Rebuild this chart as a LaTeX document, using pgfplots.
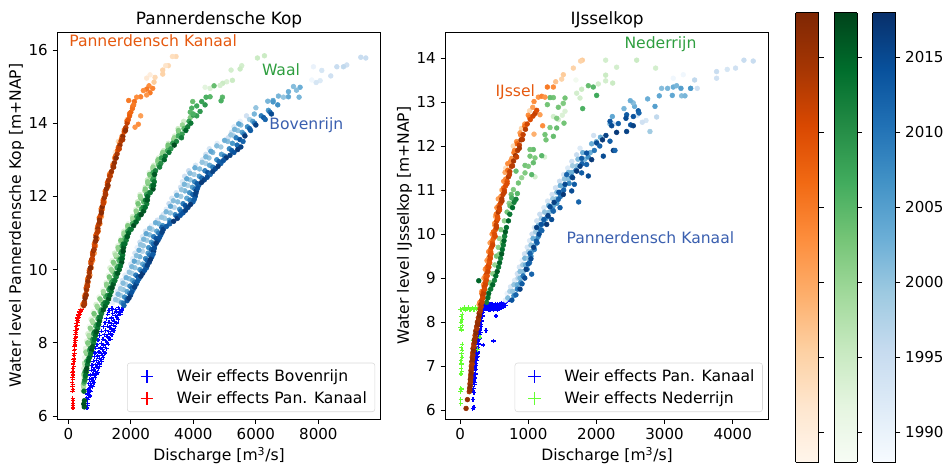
\documentclass[border=0pt]{standalone}
\usepackage{fontspec}
\setmainfont{DejaVu Sans}
\usepackage{pgfplots}
\pgfplotsset{compat=1.18}
\pgfplotsset{
colormap={Oranges}{rgb255=(255,245,235) rgb255=(254,230,206) rgb255=(253,208,162) rgb255=(253,174,107) rgb255=(253,141,60) rgb255=(241,105,19) rgb255=(217,72,1) rgb255=(166,54,3) rgb255=(127,39,4)},
colormap={Greens}{rgb255=(247,252,245) rgb255=(229,245,224) rgb255=(199,233,192) rgb255=(161,217,155) rgb255=(116,196,118) rgb255=(65,171,93) rgb255=(35,139,69) rgb255=(0,109,44) rgb255=(0,68,27)},
colormap={Blues}{rgb255=(247,251,255) rgb255=(222,235,247) rgb255=(198,219,239) rgb255=(158,202,225) rgb255=(107,174,214) rgb255=(66,146,198) rgb255=(33,113,181) rgb255=(8,81,156) rgb255=(8,48,107)},
pts/.style={scatter, only marks, mark=*, mark size=1.8pt, forget plot, point meta=explicit, point meta min=1988, point meta max=2018, scatter/use mapped color={draw=mapped color,fill=mapped color}},
weir/.style={only marks, mark=+, mark size=1.6pt, line width=0.9pt, forget plot},
panel/.style={scale only axis, anchor=south west, axis line style={line width=0.7pt}, tick style={line width=0.6pt,black}, major tick length=3.6pt, tick align=outside, xtick pos=bottom, ytick pos=left, height=290.25pt, width=242.6pt, every axis title/.style={at={(0.5,1)},anchor=south,yshift=-0.4pt}, /pgf/number format/assume math mode=true, scaled ticks=false, /pgf/number format/1000 sep={}, legend cell align=left, legend image code/.code={\pgfpathmoveto{\pgfpointorigin}\pgfpathmoveto{\pgfpoint{0.6cm}{0cm}}\pgfusepath{discard}\begin{scope}[##1]\pgftransformxshift{10.8pt}\pgfuseplotmark{+}\end{scope}}, legend style={anchor=south west, draw=black!15, rounded corners=2pt, fill=white, fill opacity=0.8, text opacity=1, row sep=1.8pt, inner xsep=4pt, inner ysep=3pt, /tikz/every even column/.append style={column sep=2pt}, font=\fontsize{11.7}{13.5}\selectfont}, xlabel style={yshift=1.6pt}, ylabel style={yshift=-3.5pt}, tick label style={font=\fontsize{11.3}{13}\selectfont}, label style={font=\fontsize{11.7}{13.5}\selectfont}, title style={font=\fontsize{12.7}{14.5}\selectfont}},
cbar/.style={scale only axis, anchor=south west, axis on top, width=17.25pt, height=337.1pt, view={0}{90}, xmin=0,xmax=1,ymin=1988,ymax=2018, xtick=\empty, ytick={1990,1995,2000,2005,2010,2015}, ytick pos=right, yticklabel pos=right, tick align=outside, major tick length=3.6pt, tick style={line width=0.6pt,black}, axis line style={line width=0.7pt}, /pgf/number format/assume math mode=true, /pgf/number format/1000 sep={}, tick label style={font=\fontsize{11.3}{13}\selectfont}},
}
\definecolor{txtO}{HTML}{E6590F}
\definecolor{txtG}{HTML}{2E9E3F}
\definecolor{txtB}{HTML}{3A5FAF}
\definecolor{lime}{HTML}{66FF33}
\newcommand{\lab}{\fontsize{11.7}{13.5}\selectfont}
\begin{document}
\begin{tikzpicture}
\useasboundingbox (0,0) rectangle (711pt,349.5pt);
\begin{axis}[panel, at={(43pt,35.25pt)}, xmin=-352, xmax=9997, ymin=5.92, ymax=16.49,
 xtick={0,2000,4000,6000,8000}, ytick={6,8,10,12,14,16},
 title={Pannerdensche Kop}, xlabel={Discharge [m\textsuperscript{3}/s]}, ylabel={Water level Pannerdensche Kop [m+NAP]},
 legend style={at={(0.2155,0.018)}}]
\addlegendimage{blue, mark size=4.8pt, line width=1pt}
\addlegendentry{\hspace{14pt}Weir effects Bovenrijn}
\addlegendimage{red, mark size=4.8pt, line width=1pt}
\addlegendentry{\hspace{14pt}Weir effects Pan. Kanaal}
% weir Bovenrijn
\addplot[weir, blue] coordinates {(600,6.22)(620,6.28)(610,6.35)(590,6.5)(640,6.5)(690,6.55)(610,6.6)(660,6.65)(720,6.68)(630,6.72)(690,6.78)(770,6.8)(650,6.88)(720,6.9)(820,6.92)(680,7.0)(760,7.02)(860,7.05)(700,7.12)(790,7.14)(900,7.15)(730,7.25)(820,7.28)(960,7.3)(760,7.38)(860,7.4)(1000,7.42)(800,7.5)(900,7.52)(1040,7.54)(830,7.62)(940,7.64)(1090,7.66)(850,7.72)(980,7.75)(1130,7.76)(880,7.85)(1020,7.86)(1180,7.88)(920,7.95)(1060,7.98)(1240,8.0)(950,8.08)(1110,8.1)(1300,8.12)(1000,8.2)(1150,8.22)(1340,8.24)(1060,8.32)(1200,8.34)(1400,8.36)(1120,8.44)(1250,8.45)(1440,8.48)(1170,8.55)(1300,8.56)(1480,8.58)(1220,8.66)(1380,8.68)(1560,8.7)(1260,8.78)(1420,8.8)(1620,8.78)(1300,8.88)(1500,8.9)(1680,8.86)(1400,8.94)(1600,8.96)(1760,8.96)
(620,6.45)(660,6.58)(700,6.7)(740,6.84)(790,6.96)(830,7.1)(870,7.22)(920,7.34)(960,7.46)(1000,7.58)(1050,7.7)(1090,7.82)(1130,7.94)(1180,8.06)(1240,8.18)(1290,8.3)(1330,8.42)(1380,8.52)(1440,8.62)(1500,8.74)(1540,8.84)(1640,8.92)(1700,8.92)(940,7.2)(1000,7.35)(1060,7.48)(1120,7.6)(1170,7.72)(1230,7.84)(1280,7.96)(1350,8.1)(1400,8.22)(1460,8.34)(1500,8.44)(1540,8.54)(1600,8.64)(1680,8.78)(1720,8.88)};
% weir Pan. Kanaal
\addplot[weir, red] coordinates {(150,6.22)(145,6.28)(155,6.34)(150,6.42)(145,6.48)(135,6.68)(150,6.72)(130,6.8)(145,6.86)(125,6.92)(140,7.0)(130,7.06)(150,7.12)(135,7.18)(160,7.22)(145,7.3)(170,7.36)(155,7.42)(180,7.48)(165,7.54)(190,7.58)(175,7.66)(200,7.7)(185,7.78)(210,7.82)(195,7.9)(220,7.94)(205,8.0)(230,8.06)(215,8.12)(240,8.16)(225,8.22)(250,8.28)(230,8.34)(270,8.38)(240,8.44)(290,8.48)(250,8.52)(300,8.56)(270,8.6)(320,8.62)(290,8.68)(345,8.7)(325,8.76)(370,8.78)(350,8.84)(410,8.86)(380,8.9)(440,8.93)(475,8.96)};
% Bovenrijn
\addplot[pts, colormap name=Blues] coordinates {
(9517,15.78)[1995](9357,15.8)[1995](8909,15.59)[1994](8802,15.54)[1996](8590,15.54)[1995](8397,15.29)[1994](8109,15.44)[1993](7842,15.54)[1990](8056,15.16)[1992](7928,15.11)[1993](7789,15.18)[1989]
(1420,9.1)[1991](1490,9.25)[1990](1570,9.4)[1992](1650,9.55)[1990](1730,9.7)[1993](1810,9.85)[1991](1900,10)[1989](1995,10.15)[1992](2060,10.3)[1991](2130,10.45)[1993](2200,10.6)[1990](2290,10.75)[1994](2370,10.9)[1992](2470,11.05)[1993](2650,11.2)[1990](2850,11.35)[1994](3030,11.5)[1993](3130,11.65)[1991](3220,11.8)[1995](3310,11.95)[1993](3450,12.1)[1992](3590,12.25)[1994](3650,12.4)[1992](3720,12.55)[1994](3850,12.7)[1995](4070,12.85)[1993](4290,13)[1992](4400,13.15)[1994](4510,13.3)[1993](4760,13.45)[1991](5110,13.6)[1994](5220,13.75)[1993](5300,13.9)[1992](5500,14.05)[1990](5700,14.2)[1994]
(1600,9.15)[1998](1670,9.3)[1999](1760,9.45)[2000](1840,9.6)[1997](1950,9.75)[2001](2040,9.9)[1998](2130,10.05)[2000](2230,10.2)[1999](2290,10.35)[2002](2370,10.5)[1997](2400,10.65)[2000](2510,10.8)[1999](2600,10.95)[2001](2680,11.1)[1998](2900,11.25)[2002](3080,11.4)[1999](3260,11.55)[2000](3390,11.7)[1997](3500,11.85)[2001](3600,12)[1999](3730,12.15)[2002](3820,12.3)[1998](3900,12.45)[2000](4020,12.6)[1999](4200,12.75)[2001](4400,12.9)[1998](4500,13.05)[2000](4620,13.2)[2002](4880,13.35)[1999](5100,13.5)[2001](5300,13.65)[1998](5420,13.8)[2000](5520,13.95)[2001](5800,14.1)[1999](5950,14.25)[2002]
(1510,9.18)[2000](1590,9.33)[2002](1670,9.48)[1999](1750,9.63)[2001](1850,9.78)[2003](1950,9.93)[2000](2030,10.08)[2002](2110,10.23)[2004](2180,10.38)[2001](2260,10.53)[2003](2310,10.68)[2000](2410,10.83)[2002](2490,10.98)[2004](2600,11.13)[2001](2790,11.28)[2003](2980,11.43)[2000](3130,11.58)[2002](3270,11.73)[2004](3360,11.88)[2001](3470,12.03)[2003](3620,12.18)[2000](3710,12.33)[2002](3790,12.48)[2004](3890,12.63)[2001](4050,12.78)[2003](4280,12.93)[2000](4400,13.08)[2002](4560,13.23)[2004](4750,13.38)[2001](5000,13.53)[2003](5200,13.68)[2000](5320,13.83)[2002](5450,13.98)[2004]
(6000,14.42)[2000](6380,14.6)[2002](6550,14.62)[2004](6722,14.74)[2002](6882,14.71)[2000](7042,14.86)[2003](7202,15)[2001](7042,14.72)[2004](7383,14.71)[2002](7415,14.98)[2003](7300,14.9)[2001]
(1700,9.1)[2005](1800,9.25)[2007](1880,9.4)[2004](1970,9.55)[2008](2060,9.7)[2005](2160,9.85)[2009](2290,10)[2006](2380,10.15)[2004](2470,10.3)[2008](2550,10.45)[2005](2570,10.6)[2007](2660,10.75)[2006](2730,10.9)[2009](2830,11.05)[2004](3020,11.2)[2007](3230,11.35)[2005](3420,11.5)[2008](3560,11.65)[2006](3670,11.8)[2009](3790,11.95)[2004](3880,12.1)[2007](3970,12.25)[2005](4040,12.4)[2008](4190,12.55)[2006](4370,12.7)[2009](4520,12.85)[2004](4750,13)[2007](4900,13.15)[2005](5150,13.3)[2008](5250,13.45)[2006](5370,13.6)[2009](5560,13.75)[2005](5730,13.9)[2007](5900,14.05)[2005](6170,14.2)[2009](6400,14.35)[2006](6700,14.5)[2007](6550,14.58)[2006]
(1760,9.08)[2010](1880,9.2)[2012](1960,9.35)[2009](2040,9.5)[2013](2120,9.65)[2010](2230,9.8)[2014](2350,9.95)[2011](2450,10.1)[2009](2520,10.25)[2012](2600,10.4)[2010](2660,10.55)[2013](2720,10.7)[2011](2810,10.85)[2014](2890,11)[2009](2990,11.15)[2012](3260,11.3)[2010](3470,11.45)[2013](3600,11.6)[2011](3740,11.75)[2014](3890,11.9)[2009](3980,12.05)[2012](4050,12.2)[2010](4120,12.35)[2013](4270,12.5)[2011](4460,12.65)[2014](4620,12.8)[2009](4820,12.95)[2012](5000,13.1)[2010](5230,13.25)[2013](5400,13.4)[2011](5490,13.55)[2014](5620,13.7)[2009](5800,13.85)[2012](5960,14)[2010](6250,14.15)[2013](6450,14.3)[2011]
(1780,9.02)[2012](1880,9.15)[2014](1990,9.3)[2016](2070,9.45)[2011](2170,9.6)[2015](2260,9.75)[2012](2380,9.9)[2017](2500,10.05)[2013](2590,10.2)[2016](2670,10.35)[2014](2730,10.5)[2017](2760,10.65)[2012](2870,10.8)[2015](2960,10.95)[2013](3040,11.1)[2016](3240,11.25)[2012](3490,11.4)[2017](3670,11.55)[2014](3830,11.7)[2016](3990,11.85)[2012](4060,12)[2015](4100,12.15)[2017](4170,12.3)[2013](4350,12.45)[2016](4540,12.6)[2012](4700,12.75)[2015](4880,12.9)[2013](5050,13.05)[2017](5300,13.2)[2014](5520,13.35)[2016](5590,13.5)[2012](5650,13.65)[2017](5830,13.8)[2013](6000,13.95)[2016](6300,14.1)[2012](6500,14.25)[2015]
(1940,9.22)[2017](2030,9.38)[2014](2120,9.52)[2016](2210,9.68)[2013](2320,9.82)[2017](2440,9.98)[2014](2530,10.12)[2016](2630,10.28)[2017](2710,10.42)[2013](2750,10.58)[2015](2810,10.72)[2017](2920,10.88)[2014](3000,11.02)[2016](3140,11.18)[2013](3370,11.32)[2017](3580,11.48)[2014](3750,11.62)[2016](3910,11.78)[2017](4030,11.92)[2013](4080,12.08)[2016](4130,12.22)[2014](4260,12.38)[2017](4440,12.52)[2015](4620,12.68)[2016](4790,12.82)[2017](4960,12.98)[2014](5170,13.12)[2016](5420,13.28)[2017]
};
% Waal
\addplot[pts, colormap name=Greens] coordinates {
(6274,15.84)[1995](6050,15.78)[1995](5548,15.57)[1994](5495,15.48)[1995](5207,15.45)[1994](5250,15.17)[1995](5068,15.13)[1993](4940,15.09)[1995](4855,15.03)[1994](4535,14.95)[1993](4375,14.98)[1992]
(465,6.7)[1992](486,7)[1991](497,7.3)[1993](520,7.6)[1990](550,7.85)[1992](585,8.05)[1991](625,8.25)[1993](665,8.45)[1989](725,8.65)[1992](790,8.85)[1990](885,9.05)[1993](980,9.25)[1991](1100,9.45)[1989](1210,9.65)[1992](1280,9.85)[1990](1330,10.05)[1993](1400,10.25)[1991](1480,10.45)[1994](1580,10.65)[1992](1680,10.85)[1990](1775,11.05)[1993](1910,11.25)[1991](2050,11.45)[1994](2160,11.65)[1992](2215,11.85)[1995](2290,12.05)[1993](2460,12.25)[1994](2530,12.45)[1995](2585,12.65)[1992](2730,12.85)[1994](2880,13.05)[1993](3050,13.25)[1995](3200,13.45)[1994](3400,13.65)[1993](3510,13.85)[1995](3690,14.05)[1994]
(490,6.8)[1999](505,7.1)[2000](535,7.4)[1998](590,7.7)[2001](650,7.95)[1999](690,8.15)[2002](730,8.35)[1997](790,8.55)[2000](850,8.75)[1998](950,8.95)[2001](1050,9.15)[1999](1130,9.35)[2002](1230,9.55)[2000](1330,9.75)[1998](1420,9.95)[2001](1470,10.15)[1999](1540,10.35)[2002](1600,10.55)[2000](1680,10.75)[1997](1780,10.95)[2001](1900,11.15)[1999](2070,11.35)[2002](2180,11.55)[2000](2250,11.75)[1998](2320,11.95)[2001](2450,12.15)[1999](2550,12.35)[2002](2620,12.55)[2000](2700,12.75)[1998](2860,12.95)[2001](3000,13.15)[2000](3190,13.35)[2002](3370,13.55)[2001](3530,13.75)[2002](3650,13.95)[2000](3900,14.15)[2002]
(480,6.85)[1998](500,7.15)[2001](520,7.45)[1997](560,7.75)[2000](620,8)[2002](660,8.2)[1998](700,8.4)[2001](760,8.6)[1999](820,8.8)[2003](920,9)[2000](1010,9.2)[2002](1120,9.4)[1999](1220,9.6)[2001](1310,9.8)[2003](1375,10)[2000](1440,10.2)[2002](1510,10.4)[1998](1590,10.6)[2001](1680,10.8)[2003](1780,11)[2000](1900,11.2)[2002](2060,11.4)[1999](2170,11.6)[2001](2230,11.8)[2003](2300,12)[2000](2460,12.2)[2002](2540,12.4)[2001](2600,12.6)[2003](2710,12.8)[2000](2870,13)[2002](3020,13.2)[2001](3190,13.4)[2003](3390,13.6)[2000](3520,13.8)[2002]
(4663,15.02)[2004](4535,14.72)[2005](4407,14.71)[2006](4268,14.59)[2008](4375,14.5)[2009](3980,14.59)[2004](4108,14.47)[2007](3948,14.41)[2006](4215,14.32)[2009](4108,14.2)[2008](4000,14.22)[2009](4930,14.71)[2005](4887,14.61)[2006](3900,14.3)[2005]
(500,6.9)[2005](530,7.2)[2007](590,7.5)[2006](680,7.8)[2008](760,8.05)[2005](810,8.25)[2009](880,8.45)[2006](950,8.65)[2007](1020,8.85)[2005](1110,9.05)[2008](1200,9.25)[2006](1300,9.45)[2009](1380,9.65)[2007](1490,9.85)[2005](1560,10.05)[2008](1620,10.25)[2006](1680,10.45)[2009](1720,10.65)[2007](1810,10.85)[2005](1900,11.05)[2008](2050,11.25)[2006](2190,11.45)[2009](2340,11.65)[2007](2410,11.85)[2005](2500,12.05)[2008](2650,12.25)[2006](2700,12.45)[2009](2710,12.65)[2007](2890,12.85)[2005](2980,13.05)[2008](3170,13.25)[2006](3340,13.45)[2009](3520,13.65)[2007](3700,13.85)[2005](3860,14.05)[2008](4000,14.25)[2006]
(515,6.95)[2009](560,7.25)[2011](635,7.55)[2008](710,7.85)[2012](790,8.1)[2010](845,8.3)[2013](920,8.5)[2009](985,8.7)[2011](1060,8.9)[2008](1170,9.1)[2012](1260,9.3)[2010](1340,9.5)[2013](1430,9.7)[2009](1530,9.9)[2011](1610,10.1)[2008](1680,10.3)[2012](1710,10.5)[2010](1760,10.7)[2013](1860,10.9)[2009](1970,11.1)[2011](2140,11.3)[2008](2280,11.5)[2012](2390,11.7)[2010](2470,11.9)[2013](2580,12.1)[2009](2690,12.3)[2011](2730,12.5)[2008](2790,12.7)[2012](2960,12.9)[2010](3100,13.1)[2013](3280,13.3)[2009](3460,13.5)[2011](3640,13.7)[2008](3820,13.9)[2012]
(510,6.25)[2016](495,6.33)[2017](515,6.42)[2016](500,6.68)[2014](535,7)[2012](570,7.2)[2016](610,7.4)[2013](680,7.6)[2015](750,7.8)[2017](810,8)[2012](870,8.2)[2015](940,8.4)[2013](1000,8.6)[2016](1065,8.8)[2012](1180,9)[2015](1290,9.2)[2017](1370,9.4)[2013](1440,9.6)[2016](1530,9.8)[2012](1630,10)[2015](1710,10.2)[2017](1740,10.4)[2013](1770,10.6)[2016](1850,10.8)[2012](1930,11)[2015](2090,11.2)[2017](2240,11.4)[2013](2410,11.6)[2016](2510,11.8)[2012](2540,12)[2015](2710,12.2)[2017](2750,12.4)[2013](2760,12.6)[2016](2920,12.8)[2012](3070,13)[2015](3220,13.2)[2013](3390,13.4)[2017](3620,13.6)[2012](3760,13.8)[2015](3920,14)[2013]
(550,7.1)[2014](590,7.3)[2017](640,7.5)[2015](715,7.7)[2013](780,7.9)[2016](840,8.1)[2014](905,8.3)[2017](970,8.5)[2015](1030,8.7)[2013](1120,8.9)[2016](1240,9.1)[2014](1330,9.3)[2015](1400,9.5)[2017](1490,9.7)[2013](1580,9.9)[2016](1670,10.1)[2014](1725,10.3)[2015](1755,10.5)[2017](1810,10.7)[2014](1890,10.9)[2016](2010,11.1)[2013](2170,11.3)[2015](2330,11.5)[2017](2460,11.7)[2014](2530,11.9)[2016](2620,12.1)[2013](2730,12.3)[2015]
};
% Pan. Kanaal
\addplot[pts, colormap name=Oranges] coordinates {
(3446,15.82)[1994](3329,15.82)[1993](3201,15.57)[1994](3115,15.57)[1992](3020,15.45)[1995](3020,15.34)[1995](2774,15.25)[1994](2742,15.12)[1996](2614,15.32)[1990](2507,15.23)[1991]
(440,9.0)[1993](510,9.3)[1992](580,9.6)[1994](650,9.9)[1991](720,10.2)[1993](790,10.5)[1990](850,10.8)[1992](905,11.1)[1994](970,11.4)[1993](1060,11.7)[1990](1140,12.0)[1993](1240,12.3)[1994](1310,12.6)[1992](1420,12.9)[1993](1500,13.2)[1991](1600,13.5)[1994](1760,13.8)[1992](1880,14.1)[1995]
(460,9.05)[2002](540,9.25)[2000](590,9.45)[2003](630,9.65)[2005](690,9.85)[2002](740,10.05)[2000](780,10.25)[2003](830,10.45)[2001](870,10.65)[2004](920,10.85)[2002](960,11.05)[2000](1010,11.25)[2003](1060,11.45)[2001](1090,11.65)[2004](1150,11.85)[2003](1200,12.05)[2000](1260,12.25)[2005](1300,12.45)[2002](1370,12.65)[2004](1440,12.85)[2001](1480,13.05)[2003](1570,13.25)[2005](1650,13.45)[2004](1720,13.65)[2002](1830,13.85)[2005](1890,14.05)[2004]
(2700,14.95)[2004](2582,15.02)[2003](2507,14.93)[2005](2400,14.89)[2003](2614,14.83)[2005](2507,14.77)[2002](2315,14.72)[2004](2187,14.71)[2003](1931,14.62)[2005](2112,14.59)[2006](2315,14.20)[2001](2240,13.97)[2003](2134,13.89)[2002]
(490,9.08)[2008](530,9.28)[2007](570,9.5)[2009](615,9.74)[2006](670,9.98)[2008](720,10.22)[2007](775,10.46)[2009](830,10.7)[2006](880,10.94)[2008](940,11.18)[2007](995,11.42)[2009](1050,11.66)[2006](1115,11.9)[2008](1180,12.14)[2007](1250,12.38)[2009](1330,12.62)[2006](1430,12.86)[2008](1510,13.1)[2007](1600,13.34)[2009](1700,13.58)[2006](1800,13.82)[2008](1880,14.06)[2007](1960,14.26)[2006](2060,14.46)[2005]
(495,9.02)[2016](515,9.12)[2014](535,9.22)[2017](560,9.33)[2012](578,9.45)[2015](600,9.57)[2013](625,9.68)[2016](650,9.8)[2011](672,9.92)[2014](700,10.04)[2017](725,10.16)[2012](750,10.28)[2015](780,10.4)[2013](805,10.52)[2016](835,10.64)[2011](860,10.76)[2014](885,10.88)[2017](915,11.0)[2012](945,11.12)[2015](970,11.24)[2013](1000,11.36)[2016](1030,11.48)[2011](1055,11.6)[2014](1085,11.72)[2017](1115,11.84)[2012](1150,11.96)[2015](1185,12.08)[2013](1215,12.2)[2016](1250,12.32)[2011](1285,12.44)[2014](1320,12.56)[2012](1380,12.68)[2015](1430,12.8)[2013](1475,12.92)[2016](1510,13.04)[2012](1560,13.16)[2014](1600,13.28)[2011](1650,13.4)[2015](1690,13.52)[2013](1745,13.64)[2016](1790,13.76)[2011](1840,13.88)[2013](1880,14.0)[2012](1920,14.1)[2009](1960,14.2)[2008](2000,14.3)[2007](2050,14.4)[2006](2090,14.5)[2005]
(520,9.06)[2014](570,9.3)[2016](615,9.55)[2013](665,9.8)[2015](715,10.05)[2017](765,10.3)[2012](825,10.55)[2014](885,10.8)[2016](945,11.05)[2013](1000,11.3)[2015](1060,11.55)[2017](1120,11.8)[2012](1190,12.05)[2014](1270,12.3)[2016](1340,12.55)[2013](1450,12.8)[2015](1530,13.05)[2017](1630,13.3)[2012](1740,13.55)[2014](1830,13.8)[2016]
};
\node[anchor=west, inner sep=0pt, text=txtO, font=\lab] at (axis cs:22,16.25) {Pannerdensch Kanaal};
\node[anchor=west, inner sep=0pt, text=txtG, font=\lab] at (axis cs:6189,15.45) {Waal};
\node[anchor=west, inner sep=0pt, text=txtB, font=\lab] at (axis cs:6422,13.94) {Bovenrijn};
\end{axis}

\begin{axis}[panel, at={(334pt,35.25pt)}, xmin=-216, xmax=4530, ymin=5.80, ymax=14.59,
 xtick={0,1000,2000,3000,4000}, ytick={6,7,8,9,10,11,12,13,14},
 title={IJsselkop}, xlabel={Discharge [m\textsuperscript{3}/s]}, ylabel={Water level IJsselkop [m+NAP]},
 legend style={at={(0.2144,0.018)}}]
\addlegendimage{blue, mark size=4.8pt, line width=1pt}
\addlegendentry{\hspace{14pt}Weir effects Pan. Kanaal}
\addlegendimage{lime, mark size=4.8pt, line width=1pt}
\addlegendentry{\hspace{14pt}Weir effects Nederrijn}
% weir Pan. Kanaal
\addplot[weir, blue] coordinates {(186,6.04)(205,6.06)(190,6.24)(205,6.4)(190,6.45)(200,6.5)(210,6.58)(195,6.62)(205,6.66)(215,6.74)(205,6.78)(210,6.82)(222,6.9)(212,6.94)(218,6.98)(232,7.06)(220,7.1)(225,7.14)(245,7.2)(230,7.24)(235,7.28)(260,7.34)(240,7.37)(250,7.4)(340,7.48)(270,7.5)(250,7.53)(260,7.58)(489,7.57)(285,7.64)(265,7.68)(272,7.72)(300,7.76)(275,7.79)(285,7.82)(381,7.81)(310,7.9)(285,7.93)(295,7.96)(320,8.02)(295,8.05)(305,8.08)(528,8.14)(330,8.14)(310,8.17)(320,8.2)(345,8.26)(325,8.28)(335,8.3)(360,8.34)(340,8.36)(350,8.38)(380,8.3)(375,8.4)(400,8.38)(410,8.3)(420,8.33)(430,8.41)(440,8.38)(450,8.28)(460,8.3)(470,8.36)(480,8.4)(490,8.3)(500,8.34)(510,8.37)(520,8.42)(530,8.3)(540,8.32)(550,8.4)(560,8.38)(570,8.3)(580,8.33)(590,8.42)(600,8.4)(610,8.32)(620,8.35)(630,8.4)(640,8.44)(650,8.36)(660,8.42)(670,8.38)(680,8.46)
(215,6.62)(222,6.72)(226,6.82)(232,6.92)(238,7.02)(245,7.12)(255,7.22)(262,7.3)(268,7.42)(275,7.52)(282,7.6)(290,7.72)(295,7.84)(305,7.94)(315,8.04)(322,8.12)(335,8.22)(345,8.32)(360,8.42)(395,8.4)(425,8.28)(455,8.41)(485,8.27)(515,8.31)(545,8.28)(575,8.42)(605,8.44)(635,8.34)(665,8.46)(695,8.48)};
% weir Nederrijn
\addplot[weir, lime] coordinates {(10,6.15)(10,6.24)(5,6.42)(20,6.48)(12,6.5)(15,6.82)(25,6.88)(18,6.95)(22,7.05)(15,7.12)(28,7.2)(22,7.28)(30,7.36)(18,7.42)(32,7.5)(20,7.82)(8,7.88)(30,7.92)(15,8.0)(28,8.06)(18,8.12)(30,8.18)(5,8.29)(25,8.28)(45,8.3)(65,8.33)(85,8.27)(105,8.3)(125,8.33)(145,8.28)(165,8.3)(185,8.32)(205,8.29)(225,8.33)(245,8.3)(265,8.32)(293,7.66)(254,7.38)(186,7.59)};
% Pan. Kanaal
\addplot[pts, colormap name=Blues] coordinates {
(4165,13.95)[1995](4301,13.93)[1995](4042,13.77)[1994](3920,13.74)[1993](3764,13.69)[1995](3764,13.54)[1994](3441,13.5)[1996](3275,13.62)[1989](3128,13.54)[1989](3480,13.31)[1994](3383,13.31)[1999]
(2884,12.66)[1996](2728,12.58)[1993](2786,12.33)[1999](2674,12.54)[1994](1400,10.55)[1990]
(665,8.5)[1991](690,8.65)[1990](740,8.8)[1993](800,8.95)[1992](840,9.1)[1994](870,9.25)[1993](910,9.4)[1990](945,9.55)[1994](985,9.7)[1993](1020,9.85)[1992](1056,10)[1995](1090,10.15)[1993](1125,10.3)[1994](1170,10.45)[1995](1230,10.6)[1992](1285,10.75)[1993](1350,10.9)[1994](1400,11.05)[1994](1460,11.2)[1995](1520,11.35)[1993](1580,11.5)[1992](1640,11.65)[1994](1710,11.8)[1995](1760,11.95)[1992](1960,12.24)[1994](2250,12.5)[1995](2600,12.7)[1993]
(730,8.7)[1998](790,8.85)[2000](850,9)[1997](880,9.15)[2001](920,9.3)[1999](950,9.45)[2002](1000,9.6)[1998](1040,9.75)[2000](1070,9.9)[2003](1110,10.05)[1999](1150,10.2)[2001](1190,10.35)[1998](1240,10.5)[2000](1300,10.65)[2002](1360,10.8)[1999](1420,10.95)[2001](1470,11.1)[2003](1530,11.25)[2000](1590,11.4)[2002](1650,11.55)[1999](1730,11.7)[2001](1800,11.85)[2003]
(700,8.55)[2001](770,8.7)[2000](840,8.85)[2003](880,9)[2002](930,9.15)[2001](960,9.3)[2003](1000,9.45)[2000](1050,9.6)[2004](1090,9.75)[2001](1130,9.9)[2003](1150,10.05)[2000](1190,10.2)[2002](1260,10.35)[2003](1310,10.5)[2001](1370,10.65)[2003](1410,10.8)[2000](1470,10.95)[2002](1530,11.1)[2003](1590,11.25)[2001](1640,11.4)[2003](1720,11.55)[2000](1830,11.7)[2002](1910,11.85)[2003](1930,12.05)[2003](2000,12.1)[2002](2060,12.2)[2003](2200,12.5)[2002](2234,12.67)[2004](2405,12.85)[2002](2560,12.9)[2003](2540,12.98)[2001](2498,13.03)[2003](2752,13.07)[2003](2860,12.9)[2005](2923,13.14)[2004](2957,13.31)[2001](3045,13.31)[2002](3114,13.15)[2004](3128,13.34)[2003](3177,13.37)[2002](3241,13.31)[2005](3251,13.14)[2001](3300,13.14)[2002](3383,13.31)[2006]
(790,8.6)[2007](840,8.75)[2009](890,8.9)[2006](925,9.05)[2010](985,9.2)[2008](1020,9.35)[2011](1040,9.5)[2007](1090,9.65)[2009](1130,9.8)[2012](1150,9.95)[2008](1180,10.1)[2010](1230,10.25)[2007](1290,10.4)[2011](1360,10.55)[2009](1420,10.7)[2006](1470,10.85)[2010](1520,11)[2012](1600,11.15)[2008](1640,11.3)[2011](1700,11.45)[2009](1790,11.6)[2012](1880,11.75)[2007](1970,11.9)[2010]
(760,8.5)[2014](820,8.62)[2012](880,8.75)[2016](910,8.87)[2013](950,9.0)[2015](1050,9.09)[2012](970,9.2)[2016](1000,9.32)[2013](1040,9.44)[2015](1026,9.56)[2012](1080,9.7)[2016](1120,9.84)[2013](1160,10.0)[2015](1200,10.08)[2012](1124,10.15)[2016](1190,10.22)[2014](1271,10.22)[2017](1230,10.33)[2013](1344,10.33)[2015](1290,10.42)[2016](1369,10.52)[2012](1320,10.62)[2015](1467,10.6)[2013](1380,10.72)[2016](1442,10.79)[2012](1515,10.9)[2017](1450,10.95)[2014](1638,10.98)[2015](1740,10.73)[2012](1677,11.13)[2013](1540,11.13)[2015](1652,11.28)[2016](1564,11.35)[2012](1711,11.43)[2017](1784,11.39)[2013](1882,11.32)[2015](1760,11.54)[2016](1857,11.58)[2012](1931,11.69)[2017](1784,11.72)[2013](1857,11.84)[2014](2102,11.77)[2015](2249,11.9)[2017](2273,11.9)[2012](2004,12.07)[2015](2090,12.14)[2017](2140,12.24)[2016](2200,12.11)[2013](2297,12.31)[2017](2322,12.51)[2013](2224,12.46)[2015](2200,12.56)[2014](2444,12.33)[2016](2503,12.48)[2014](2542,12.46)[2016](2444,12.71)[2013](2434,12.63)[2015](2542,12.67)[2014](2615,12.8)[2013](2625,12.75)[2012](2050,12.0)[2012]
};
% Nederrijn
\addplot[pts, colormap name=Greens] coordinates {
(2136,13.95)[1994](2591,13.95)[1995](2869,13.77)[1994](2297,13.79)[1994](2136,13.61)[1995](2136,13.48)[1994](2239,13.43)[1995](2028,13.41)[1994](1784,13.29)[1995](1711,13.2)[1994](1760,13.09)[1994](1540,12.79)[1993](1369,12.67)[1994](1500,12.95)[1990](1700,13.5)[1989](1500,12.7)[1993](1442,12.6)[1994](1240,11.75)[1993](1100,11.3)[1994]
(1882,13.37)[2004](1955,13.34)[2005](2004,13.15)[2007](1540,13.09)[2003](1369,13.1)[2003](1320,13.1)[2004](1515,12.97)[2002](1281,12.94)[2003](1799,12.85)[2006](1442,12.88)[2003](1418,12.63)[2002](1525,12.52)[2003](1320,12.42)[2002](1418,12.41)[2004](1246,12.26)[2003](1369,12.22)[2004](1261,12.14)[2003](1075,11.92)[2004](1026,11.92)[2003](1198,11.78)[2005](1026,11.77)[2003](1100,11.73)[2002](1075,11.62)[2004](953,11.56)[2003](1002,11.54)[2002](821,11.43)[2004](953,11.39)[2002](1051,11.35)[2005](904,11.28)[2000](856,11.16)[2003](782,11.01)[2002](841,10.92)[2005]
(400,8.7)[2000](435,8.9)[2002](480,9.1)[2001](510,9.3)[2000](535,9.5)[2003](560,9.7)[2001](575,9.9)[2000](600,10.1)[2002](650,10.3)[2001](690,10.5)[2003](720,10.7)[2001](750,10.9)[2004](758,10.82)[2006](733,10.64)[2004](650,9.95)[2003](620,9.8)[2002](580,9.55)[2001](513,9.1)[2001](464,8.83)[2002](415,8.57)[2001]
(390,8.45)[2012](405,8.55)[2014](420,8.65)[2015](450,8.75)[2013](480,8.85)[2015](505,8.95)[2012](525,9.05)[2014](545,9.15)[2016](565,9.25)[2013](580,9.35)[2015](595,9.45)[2012](610,9.55)[2016](620,9.65)[2014](635,9.75)[2013](645,9.85)[2015](655,9.95)[2012](665,10.05)[2016](680,10.15)[2014](710,10.3)[2015](730,10.45)[2013](770,10.6)[2014](792,10.72)[2012](821,10.79)[2012](274,8.94)[2015]
};
% IJssel
\addplot[pts, colormap name=Oranges] coordinates {
(1794,13.95)[1996](1769,13.93)[1995](1662,13.77)[1995](1515,13.62)[1996](1491,13.52)[1995](1403,13.46)[1997]
(250,8.0)[1993](320,8.5)[1992](380,9.0)[1994](430,9.5)[1993](500,10.0)[1992](550,10.5)[1994](610,11.0)[1995](670,11.5)[1993](780,12.0)[1994](900,12.4)[1995](1020,12.8)[1994]
(280,8.4)[2002](320,8.7)[2003](350,9.0)[2001](370,9.2)[2003](395,9.4)[2002](420,9.6)[2004](440,9.8)[2001](470,10.0)[2003](510,10.2)[2002](520,10.4)[2000](540,10.6)[2003](560,10.8)[2001](600,10.85)[2004](620,11.0)[2002](640,11.2)[2003](660,11.4)[2000](700,11.6)[2003](760,11.72)[2002](800,11.9)[2004](830,12.1)[2003](880,12.3)[2001](950,12.5)[2002](1000,12.7)[2003](1066,12.88)[2001](1085,13.01)[2003](1149,13.11)[2002](1198,13.13)[2004](1246,13.11)[2002](1173,12.71)[2001](1212,12.46)[2003](1085,12.27)[1999](1281,13.34)[2005](1369,13.34)[2003]
(290,8.45)[2004](320,8.65)[2006](345,8.85)[2003](370,9.05)[2005](395,9.25)[2007](420,9.45)[2002](445,9.65)[2006](470,9.85)[2004](490,10.05)[2007](510,10.25)[2003](530,10.45)[2005](570,10.65)[2006](600,10.85)[2002](640,11.05)[2007](670,11.25)[2004](700,11.45)[2006](740,11.65)[2003](790,11.85)[2005](840,12.05)[2007](890,12.25)[2004](950,12.45)[2006](1020,12.65)[2005]
(108,6.24)[2016](88,6.04)[2016](135,6.42)[2014](140,6.5)[2016](145,6.6)[2014](150,6.7)[2017](155,6.8)[2013](160,6.9)[2015](165,7)[2013](172,7.1)[2016](178,7.2)[2014](184,7.3)[2012](190,7.4)[2015](200,7.5)[2013](210,7.6)[2016](220,7.7)[2012](230,7.8)[2015](243,7.9)[2014](255,8)[2016](268,8.1)[2013](280,8.2)[2015](293,8.3)[2012](305,8.4)[2014](318,8.5)[2011](330,8.6)[2012](343,8.7)[2010](355,8.8)[2011](368,8.9)[2010](380,9)[2009](392,9.1)[2011](405,9.2)[2008](418,9.3)[2010](430,9.4)[2009](440,9.5)[2012](450,9.6)[2008](462,9.7)[2010](475,9.8)[2009](490,9.9)[2008](505,10)[2010](518,10.1)[2009](530,10.2)[2012](538,10.3)[2011](550,10.4)[2009](560,10.5)[2013](575,10.6)[2012](595,10.7)[2011](612,10.8)[2013](630,10.9)[2012](650,11)[2011](670,11.1)[2010](690,11.2)[2009](710,11.3)[2013](730,11.42)[2012](755,11.54)[2013](785,11.66)[2014](815,11.78)[2015](845,11.9)[2013](870,12.02)[2012](895,12.14)[2014](925,12.26)[2012](960,12.38)[2013](985,12.5)[2011](1030,12.6)[2010](1070,12.68)[2011](1100,12.74)[2012](1125,12.81)[2010]
(145,6.45)[2016](150,6.55)[2017](155,6.65)[2015](160,6.75)[2016](165,6.85)[2017](170,6.95)[2015](178,7.05)[2014](185,7.15)[2016](190,7.25)[2015](197,7.35)[2017](205,7.45)[2014](215,7.55)[2016](225,7.65)[2015](235,7.75)[2017](248,7.85)[2014](260,7.95)[2016](272,8.05)[2015](285,8.15)[2017](297,8.25)[2014](310,8.35)[2013](323,8.45)[2012](335,8.55)[2011](348,8.65)[2012](360,8.75)[2010](373,8.85)[2011](385,8.95)[2010](398,9.05)[2009](410,9.15)[2011](423,9.25)[2010](435,9.35)[2009](445,9.45)[2010](455,9.55)[2009](480,9.75)[2011](515,9.95)[2010](535,10.15)[2012](555,10.35)[2009](580,10.55)[2011](615,10.75)[2013](650,10.95)[2012](690,11.15)[2010](725,11.35)[2012](770,11.55)[2013](830,11.75)[2012](870,11.95)[2014](915,12.15)[2013]
};
\node[anchor=west, inner sep=0pt, text=txtG, font=\lab] at (axis cs:2409,14.32) {Nederrijn};
\node[anchor=west, inner sep=0pt, text=txtO, font=\lab] at (axis cs:518,13.23) {IJssel};
\node[anchor=west, inner sep=0pt, text=txtB, font=\lab] at (axis cs:1559,9.91) {Pannerdensch Kanaal};
\end{axis}

\begin{axis}[cbar, at={(596.8pt,3pt)}, yticklabels={}]
\addplot3[surf, shader=interp, colormap name=Oranges, point meta=y, mesh/cols=2, forget plot] coordinates {(0,1988,0)(1,1988,0)(0,2018,0)(1,2018,0)};
\end{axis}
\begin{axis}[cbar, at={(625.7pt,3pt)}, yticklabels={}]
\addplot3[surf, shader=interp, colormap name=Greens, point meta=y, mesh/cols=2, forget plot] coordinates {(0,1988,0)(1,1988,0)(0,2018,0)(1,2018,0)};
\end{axis}
\begin{axis}[cbar, at={(654.5pt,3pt)}]
\addplot3[surf, shader=interp, colormap name=Blues, point meta=y, mesh/cols=2, forget plot] coordinates {(0,1988,0)(1,1988,0)(0,2018,0)(1,2018,0)};
\end{axis}
\end{tikzpicture}
\end{document}
